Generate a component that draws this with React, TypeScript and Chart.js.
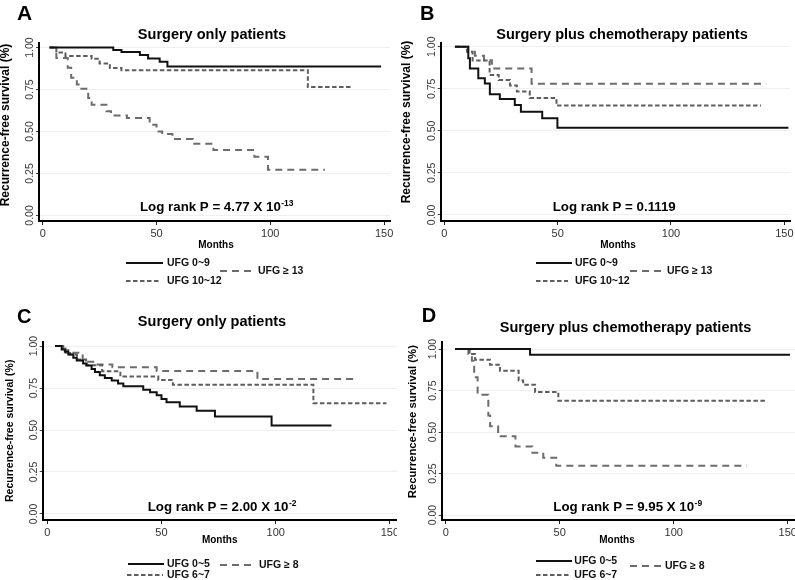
import React, { useEffect, useRef } from 'react';
import { Chart, registerables } from 'chart.js';

Chart.register(...registerables);

const FONT = '"Liberation Sans", Arial, sans-serif';
Chart.defaults.font.family = FONT;

// ---------- shared axis data ----------
const X_TICKS = [0, 50, 100, 150];
const Y_TICKS = [0, 0.25, 0.5, 0.75, 1];
const Y_TICK_LABELS = ['0.00', '0.25', '0.50', '0.75', '1.00'];
const X_TITLE = 'Months';
const Y_TITLE = 'Recurrence-free survival (%)';

// ---------- Panel A : Surgery only, UFG 0~9 / 10~12 / >=13 ----------
const A_LABELS = ['UFG 0~9', 'UFG 10~12', 'UFG \u2265 13'];
const A1_T = [3, 31, 34.6, 42.7, 46.3, 51.4, 54.8, 148.7];
const A1_S = [1, 0.986, 0.974, 0.955, 0.935, 0.915, 0.887, 0.887];
const A2_T = [3, 6, 10, 21.5, 25, 29.5, 34.6, 116.5, 135.5];
const A2_S = [1, 0.97, 0.95, 0.933, 0.905, 0.878, 0.865, 0.765, 0.765];
const A3_T = [3, 6, 11, 12.5, 15, 17, 20, 21.5, 28, 30, 37, 47, 50, 52.5, 57, 66, 75, 93, 99, 124];
const A3_S = [1, 0.937, 0.88, 0.82, 0.78, 0.755, 0.7, 0.66, 0.62, 0.595, 0.58, 0.54, 0.5, 0.485, 0.455, 0.427, 0.39, 0.35, 0.272, 0.272];

// ---------- Panel B : Surgery plus chemotherapy, UFG 0~9 / 10~12 / >=13 ----------
const B_LABELS = ['UFG 0~9', 'UFG 10~12', 'UFG \u2265 13'];
const B1_T = [4.7, 10.6, 11.3, 15, 17.9, 20.1, 24.5, 31.1, 33.8, 43.2, 49.9, 151.8];
const B1_S = [1, 0.931, 0.871, 0.812, 0.782, 0.717, 0.689, 0.653, 0.613, 0.574, 0.518, 0.518];
const B2_T = [4.7, 10, 12.5, 20, 24, 29, 32, 37.7, 49.5, 139.7];
const B2_S = [1, 0.97, 0.918, 0.832, 0.802, 0.77, 0.733, 0.695, 0.65, 0.65];
const B3_T = [4.7, 10.5, 13.5, 17.5, 21, 38.5, 142];
const B3_S = [1, 0.97, 0.946, 0.92, 0.871, 0.78, 0.78];

// ---------- Panel C : Surgery only, UFG 0~5 / 6~7 / >=8 ----------
const C_LABELS = ['UFG 0~5', 'UFG 6~7', 'UFG \u2265 8'];
const C1_T = [3.4, 6.3, 7.7, 9.2, 11.4, 12.9, 15.7, 17.2, 19.4, 20.9, 23, 25.2, 28.2, 31, 33.3, 42, 45, 47.9, 50, 52.2, 58, 65.4, 73.4, 98.2, 124.4];
const C1_S = [1, 0.98, 0.966, 0.95, 0.93, 0.914, 0.896, 0.884, 0.864, 0.846, 0.826, 0.81, 0.795, 0.777, 0.76, 0.74, 0.725, 0.707, 0.685, 0.666, 0.64, 0.615, 0.58, 0.527, 0.527];
const C2_T = [3.4, 7, 10, 13, 17, 24, 32, 48.6, 55, 116.5, 148.5];
const C2_S = [1, 0.975, 0.95, 0.92, 0.886, 0.85, 0.818, 0.798, 0.77, 0.66, 0.66];
const C3_T = [3.4, 8, 15.5, 21, 28.5, 47.9, 92, 134.6];
const C3_S = [1, 0.96, 0.906, 0.89, 0.874, 0.852, 0.804, 0.804];

// ---------- Panel D : Surgery plus chemotherapy, UFG 0~5 / 6~7 / >=8 ----------
const D_LABELS = ['UFG 0~5', 'UFG 6~7', 'UFG \u2265 8'];
const D1_T = [4.1, 37, 151];
const D1_S = [1, 0.966, 0.966];
const D2_T = [4.1, 10, 12.9, 19.4, 23.8, 32, 34, 39.2, 49.4, 140.8];
const D2_S = [1, 0.97, 0.936, 0.905, 0.869, 0.81, 0.785, 0.741, 0.689, 0.689];
const D3_T = [4.1, 10.5, 11.5, 12.5, 14, 18.7, 19.5, 23, 30.6, 38, 42.8, 48.5, 132];
const D3_S = [1, 0.97, 0.93, 0.83, 0.725, 0.6, 0.534, 0.474, 0.413, 0.375, 0.345, 0.297, 0.297];

// ---------- texts ----------
const TITLE_SURGERY = 'Surgery only patients';
const TITLE_CHEMO = 'Surgery plus chemotherapy patients';

// ---------- styles ----------
const STYLES = [
  { color: '#111111', dash: [] as number[], width: 2 },
  { color: '#5e5e5e', dash: [4.5, 2.5], width: 2 },
  { color: '#6c6c6c', dash: [7, 5], width: 2 },
];

type Leg = { x1: number; x2: number; y: number; tx: number };
type Panel = {
  key: string;
  left: number; top: number; w: number; h: number;
  pad: { left: number; right: number; top: number; bottom: number };
  yw: number; xh: number;
  xmin: number; xmax: number; ymin: number; ymax: number;
  letter: string; letterX: number; letterY: number; letterSize: number;
  title: string; titleX: number; titleY: number;
  lr: string; sup: string; lrX: number; lrY: number;
  monthsX: number; monthsY: number;
  ylabX: number; ylabY: number; ylabSize: number;
  labels: string[];
  times: number[][]; surv: number[][];
  legend: Leg[];
};

const PANELS: Panel[] = [
  {
    key: 'A', left: 0, top: 0, w: 397, h: 290,
    pad: { left: 0, right: 7, top: 43, bottom: 39 }, yw: 39, xh: 30,
    xmin: -1.63, xmax: 152.6, ymin: -0.033, ymax: 1.027,
    letter: 'A', letterX: 17, letterY: 20, letterSize: 21,
    title: TITLE_SURGERY, titleX: 212, titleY: 38.5,
    lr: 'Log rank P = 4.77 X 10', sup: '-13', lrX: 140, lrY: 211,
    monthsX: 216, monthsY: 248,
    ylabX: 5.5, ylabY: 125, ylabSize: 12,
    labels: A_LABELS, times: [A1_T, A2_T, A3_T], surv: [A1_S, A2_S, A3_S],
    legend: [
      { x1: 126, x2: 163, y: 263, tx: 167 },
      { x1: 126, x2: 160, y: 281, tx: 167 },
      { x1: 220, x2: 252, y: 271, tx: 258 },
    ],
  },
  {
    key: 'B', left: 398, top: 0, w: 397, h: 290,
    pad: { left: 0, right: 5, top: 43, bottom: 39 }, yw: 42.7, xh: 30,
    xmin: -1.58, xmax: 152.5, ymin: -0.036, ymax: 1.022,
    letter: 'B', letterX: 22, letterY: 19.5, letterSize: 20,
    title: TITLE_CHEMO, titleX: 224, titleY: 38.5,
    lr: 'Log rank P = 0.1119', sup: '', lrX: 154.7, lrY: 211,
    monthsX: 220, monthsY: 248,
    ylabX: 9, ylabY: 122, ylabSize: 12,
    labels: B_LABELS, times: [B1_T, B2_T, B3_T], surv: [B1_S, B2_S, B3_S],
    legend: [
      { x1: 138, x2: 174, y: 263, tx: 177 },
      { x1: 138, x2: 170, y: 281, tx: 177 },
      { x1: 232, x2: 263, y: 271, tx: 269 },
    ],
  },
  {
    key: 'C', left: 0, top: 290, w: 397, h: 290,
    pad: { left: 0, right: 0, top: 51.7, bottom: 30 }, yw: 42.7, xh: 30,
    xmin: -2.0, xmax: 153.1, ymin: -0.036, ymax: 1.026,
    letter: 'C', letterX: 17, letterY: 33.3, letterSize: 20,
    title: TITLE_SURGERY, titleX: 212, titleY: 36.4,
    lr: 'Log rank P = 2.00 X 10', sup: '-2', lrX: 147.7, lrY: 221,
    monthsX: 219.7, monthsY: 253.3,
    ylabX: 10.5, ylabY: 140.8, ylabSize: 10.5,
    labels: C_LABELS, times: [C1_T, C2_T, C3_T], surv: [C1_S, C2_S, C3_S],
    legend: [
      { x1: 128, x2: 164, y: 274, tx: 167 },
      { x1: 127, x2: 163, y: 285, tx: 167 },
      { x1: 220, x2: 251, y: 275, tx: 259 },
    ],
  },
  {
    key: 'D', left: 398, top: 290, w: 397, h: 290,
    pad: { left: 0, right: 0, top: 51.7, bottom: 30 }, yw: 43.7, xh: 30,
    xmin: -1.75, xmax: 153.2, ymin: -0.03, ymax: 1.044,
    letter: 'D', letterX: 23.7, letterY: 32, letterSize: 20,
    title: TITLE_CHEMO, titleX: 227.5, titleY: 42,
    lr: 'Log rank P = 9.95 X 10', sup: '-9', lrX: 155.3, lrY: 221,
    monthsX: 219, monthsY: 253.3,
    ylabX: 15.3, ylabY: 131.7, ylabSize: 11.3,
    labels: D_LABELS, times: [D1_T, D2_T, D3_T], surv: [D1_S, D2_S, D3_S],
    legend: [
      { x1: 138, x2: 174, y: 271, tx: 176.3 },
      { x1: 138, x2: 173, y: 285, tx: 176.3 },
      { x1: 232, x2: 263, y: 276, tx: 267 },
    ],
  },
];

function makeTextPlugin(P: Panel) {
  return {
    id: 'panelText' + P.key,
    afterDraw(chart: any) {
      const ctx: CanvasRenderingContext2D = chart.ctx;
      const area = chart.chartArea;
      ctx.save();
      ctx.fillStyle = '#000';
      ctx.textBaseline = 'alphabetic';
      // panel letter
      ctx.font = `bold ${P.letterSize}px ${FONT}`;
      ctx.textAlign = 'left';
      ctx.fillText(P.letter, P.letterX, P.letterY);
      // title
      ctx.font = `bold 14.5px ${FONT}`;
      ctx.textAlign = 'center';
      ctx.fillText(P.title, P.titleX, P.titleY);
      // log rank
      ctx.font = `bold 13.3px ${FONT}`;
      ctx.textAlign = 'left';
      ctx.fillText(P.lr, P.lrX, P.lrY);
      if (P.sup) {
        const w = ctx.measureText(P.lr).width;
        ctx.font = `bold 8.5px ${FONT}`;
        ctx.fillText(P.sup, P.lrX + w + 0.5, P.lrY - 5);
      }
      // x title
      ctx.font = `bold 10px ${FONT}`;
      ctx.textAlign = 'center';
      ctx.fillText(X_TITLE, P.monthsX, P.monthsY);
      // y title
      ctx.save();
      ctx.translate(P.ylabX, P.ylabY);
      ctx.rotate(-Math.PI / 2);
      ctx.font = `bold ${P.ylabSize}px ${FONT}`;
      ctx.textAlign = 'center';
      ctx.textBaseline = 'middle';
      ctx.fillText(Y_TITLE, 0, 0);
      ctx.restore();
      // rotated y tick labels
      const ys = chart.scales.y;
      ctx.font = `10.5px ${FONT}`;
      ctx.fillStyle = '#3a3a3a';
      ctx.textAlign = 'center';
      ctx.textBaseline = 'middle';
      Y_TICKS.forEach((v, i) => {
        const py = ys.getPixelForValue(v);
        ctx.save();
        ctx.translate(area.left - 8.5, py);
        ctx.rotate(-Math.PI / 2);
        ctx.fillText(Y_TICK_LABELS[i], 0, 0);
        ctx.restore();
      });
      // legend
      P.legend.forEach((it, i) => {
        const ds = chart.data.datasets[i];
        ctx.save();
        ctx.strokeStyle = ds.borderColor;
        ctx.lineWidth = ds.borderWidth;
        ctx.setLineDash(ds.borderDash || []);
        ctx.beginPath();
        ctx.moveTo(it.x1, it.y);
        ctx.lineTo(it.x2, it.y);
        ctx.stroke();
        ctx.restore();
        ctx.font = `bold 10.5px ${FONT}`;
        ctx.fillStyle = '#111';
        ctx.textAlign = 'left';
        ctx.textBaseline = 'middle';
        ctx.fillText(ds.label, it.tx, it.y);
      });
      ctx.restore();
    },
  };
}

function KMPanel({ P }: { P: Panel }) {
  const ref = useRef<HTMLCanvasElement | null>(null);
  useEffect(() => {
    if (!ref.current) return;
    const datasets = P.times.map((t, i) => ({
      label: P.labels[i],
      data: t.map((x, j) => ({ x, y: P.surv[i][j] })),
      stepped: 'before' as const,
      borderColor: STYLES[i].color,
      borderWidth: STYLES[i].width,
      borderDash: STYLES[i].dash,
      pointRadius: 0,
      fill: false,
    }));
    const chart = new Chart(ref.current, {
      type: 'line',
      data: { datasets },
      options: {
        animation: false,
        responsive: false,
        maintainAspectRatio: false,
        layout: { padding: P.pad },
        plugins: { legend: { display: false }, tooltip: { enabled: false }, title: { display: false } },
        scales: {
          x: {
            type: 'linear',
            min: P.xmin,
            max: P.xmax,
            afterBuildTicks: (s: any) => { s.ticks = X_TICKS.map((v) => ({ value: v })); },
            afterFit: (s: any) => { s.height = P.xh; s.paddingLeft = 0; s.paddingRight = 0; },
            grid: { display: true, drawOnChartArea: false, drawTicks: true, tickLength: 4, tickColor: '#222' },
            border: { display: true, color: '#000', width: 2 },
            ticks: { color: '#333', font: { size: 11 }, padding: 2, maxRotation: 0, autoSkip: false },
          },
          y: {
            type: 'linear',
            min: P.ymin,
            max: P.ymax,
            afterBuildTicks: (s: any) => { s.ticks = Y_TICKS.map((v) => ({ value: v })); },
            afterFit: (s: any) => { s.width = P.yw; s.paddingTop = 0; s.paddingBottom = 0; },
            grid: { display: true, color: '#efefef', lineWidth: 1, drawTicks: true, tickLength: 3, tickColor: '#444' },
            border: { display: true, color: '#000', width: 2 },
            ticks: { display: false },
          },
        },
      },
      plugins: [makeTextPlugin(P)],
    } as any);
    return () => chart.destroy();
  }, [P]);
  return (
    <canvas
      ref={ref}
      width={P.w}
      height={P.h}
      style={{ position: 'absolute', left: P.left, top: P.top, width: P.w, height: P.h }}
    />
  );
}

export default function App() {
  return (
    <div style={{ position: 'fixed', left: 0, top: 0, width: 795, height: 580, background: '#fff', overflow: 'hidden' }}>
      {PANELS.map((P) => (
        <KMPanel key={P.key} P={P} />
      ))}
    </div>
  );
}
